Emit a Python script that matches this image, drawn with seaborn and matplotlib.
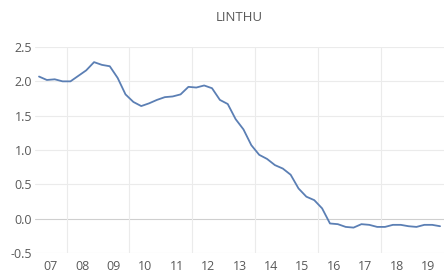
import matplotlib
matplotlib.use("Agg")
import matplotlib.pyplot as plt
import seaborn as sns
import pandas as pd
import numpy as np

TITLE = "LINTHU"
YEARS = ["07", "08", "09", "10", "11", "12", "13", "14", "15", "16", "17", "18", "19"]

# quarterly values, 2007 Q1 .. 2019 Q4
LINTHU = [
    2.07, 2.02, 2.03, 2.00, 2.00, 2.08, 2.16, 2.28, 2.24, 2.22, 2.05, 1.81,
    1.70, 1.64, 1.68, 1.73, 1.77, 1.78, 1.81, 1.92, 1.91, 1.94, 1.90, 1.73,
    1.67, 1.45, 1.30, 1.07, 0.93, 0.87, 0.78, 0.73, 0.64, 0.44, 0.32, 0.27,
    0.15, -0.07, -0.08, -0.12, -0.13, -0.08, -0.09, -0.12, -0.12, -0.09, -0.09, -0.11,
    -0.12, -0.09, -0.09, -0.11,
]
Y_TICKS = [-0.5, 0.0, 0.5, 1.0, 1.5, 2.0, 2.5]

df = pd.DataFrame({"quarter": np.arange(len(LINTHU)), "value": LINTHU})

sns.set_theme(style="white")
plt.rcParams["font.family"] = ["Open Sans", "DejaVu Sans"]
text_col = "#595959"

fig = plt.figure(figsize=(4.44, 2.75), dpi=100)
ax = fig.add_axes([0.079, 0.08, 0.921, 0.749])

# gridlines
for y in Y_TICKS:
    ax.axhline(y, color="#cfcfcf" if y == 0 else "#ebebeb", lw=0.8, zorder=0)
for k in range(6):
    ax.axvline(3.5 + 8 * k, color="#ebebeb", lw=0.8, zorder=0)

sns.lineplot(data=df, x="quarter", y="value", ax=ax, color="#5b7fb4", linewidth=1.3)

ax.set_xlim(-0.5, len(LINTHU) - 0.5)
ax.set_ylim(-0.5, 2.5)
ax.set_yticks(Y_TICKS)
ax.set_yticklabels([f"{v:.1f}" for v in Y_TICKS])
ax.set_xticks([1.5 + 4 * i for i in range(len(YEARS))])
ax.set_xticklabels(YEARS)
ax.tick_params(axis="both", length=0, labelsize=9, labelcolor=text_col)
ax.tick_params(axis="x", pad=5)
ax.tick_params(axis="y", pad=2)
ax.set_xlabel("")
ax.set_ylabel("")
for s in ax.spines.values():
    s.set_visible(False)

fig.text(0.54, 0.935, TITLE, ha="center", va="center", fontsize=9.5, color=text_col)

fig.savefig("out.png", dpi=100)
